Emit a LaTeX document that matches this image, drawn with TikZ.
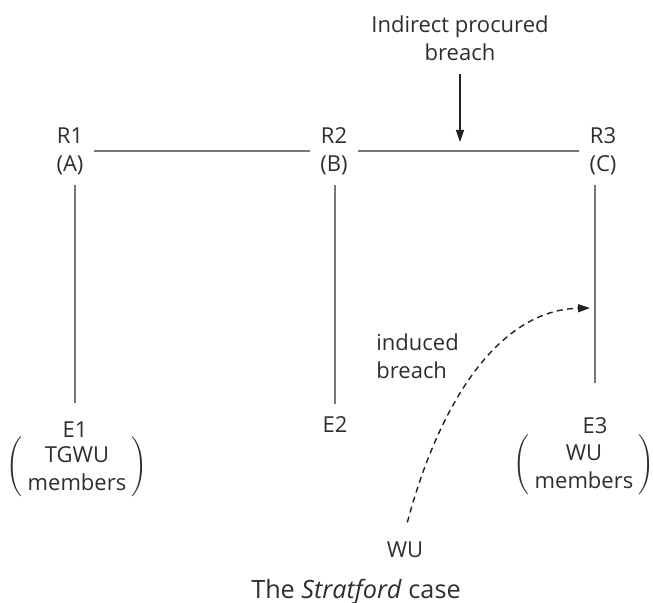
\documentclass[tikz,border=0pt]{standalone}
\usepackage{fontspec}
\setmainfont{Open Sans}
\usetikzlibrary{arrows.meta}
\definecolor{ctext}{HTML}{2E2E2E}
\definecolor{cline}{HTML}{777777}
\definecolor{cdark}{HTML}{222222}
\tikzset{
  every picture/.style={font=\fontsize{11}{14}\selectfont, text=ctext},
  party/.style={align=center, inner sep=5pt},
  group/.style={inner sep=0pt},
  link/.style={draw=cline, line width=1pt},
  arrow/.style={-{Triangle[length=6pt, width=4pt]}, draw=cdark, line width=0.6pt},
  dasharrow/.style={arrow, line width=0.7pt, dash pattern=on 3pt off 2.2pt},
  note/.style={align=left, inner sep=5pt},
  title/.style={font=\fontsize{12.6}{15}\selectfont, inner sep=0pt},
}

\begin{document}
\begin{tikzpicture}[x=0.5pt, y=-0.5pt]
  \useasboundingbox (0,0) rectangle (653,603);
  % ---------- parties ----------
  \node[party] (R1) at (70,151) {R1\\(A)};
  \node[party] (R2) at (334,151) {R2\\(B)};
  \node[party] (R3) at (603,151) {R3\\(C)};
  \node[party] (E1) at (75,430) {E1};
  \node[party] (E2) at (335,425) {E2};
  \node[party] (E3) at (595,426) {E3};
  \node[group] (E1m) at (77,467) {$\left(\begin{tabular}{@{\hspace{2.5pt}}c@{\hspace{2.5pt}}}TGWU\rule{0pt}{14pt}\\members\end{tabular}\right)$};
  \node[group] (E3m) at (584,465) {$\left(\begin{tabular}{@{\hspace{2.5pt}}c@{\hspace{2.5pt}}}WU\rule{0pt}{14pt}\\members\end{tabular}\right)$};
  % ---------- contracts ----------
  \draw[link] (R1) -- (R2);
  \draw[link] (R2) -- (R3);
  \draw[link, shorten >=4.5pt] (E1.north |- R1.south) -- (E1.north);
  \draw[link, shorten >=1.5pt] (E2.north |- R2.south) -- (E2.north);
  \draw[link, shorten >=12.5pt] (E3.north |- R3.south) -- (E3.north);
  % ---------- breaches ----------
  \node[party] (ipb) at (460,38) {Indirect procured\\breach};
  \draw[arrow, shorten <=1.5pt, shorten >=4.5pt] (ipb.south) -- (ipb.south |- R3.west);
  \node[note, anchor=west] (ib) at (366,356) {induced\\breach};
  \node[party] (wu) at (405,549.5) {WU};
  \coordinate (wuend) at (590,308);
  \draw[dasharrow, shorten <=4.5pt] (wu.north) .. controls (440,400) and (500,310) .. (wuend);
  \node[title, anchor=base] (cap) at (356,598) {The \textit{Stratford} case};
\end{tikzpicture}
\end{document}
